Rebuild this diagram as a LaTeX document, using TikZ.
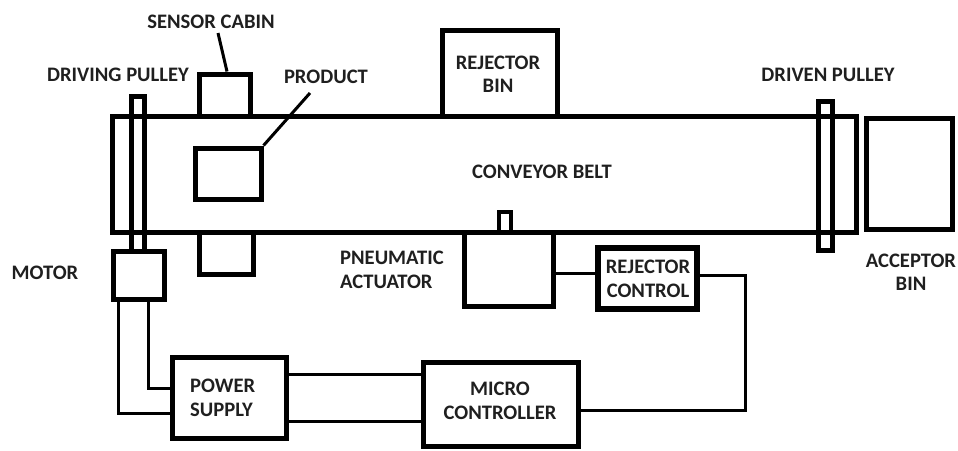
\documentclass[tikz,border=0pt]{standalone}
\usepackage{fontspec}
\setmainfont{Carlito}
\usetikzlibrary{calc}
\begin{document}
\begin{tikzpicture}[x=1pt,y=-1pt,
  box/.style={draw=black,line width=5pt,inner sep=0pt,minimum width=#1},
  wire/.style={draw=black,line width=3pt},
  lbl/.style={font=\bfseries\fontsize{20.6}{23.5}\selectfont,text=black!88,inner sep=0pt}]
\useasboundingbox (0,0) rectangle (958,450);
% belt
\node[box=744pt,minimum height=116pt] (belt) at (484,174) {};
% driving pulley and motor
\node[box=13pt,minimum height=155pt] (dpul) at (137.5,173.5) {};
\node[box=51pt,minimum height=48pt] (motor) at (138.5,275) {};
% sensor cabin
\node[box=51pt,minimum height=42pt] (senstop) at (224.5,95) {};
\node[box=54pt,minimum height=42pt] (sensbot) at (226,253) {};
% product
\node[box=66pt,minimum height=51pt] (prod) at (228,173.5) {};
% rejector bin
\node[box=115pt,minimum height=86pt] (rbin) at (499.5,73) {};
% actuator and rod
\node[draw=black,line width=4pt,inner sep=0pt,minimum width=12pt,minimum height=20pt] (rod) at (505,222) {};
\node[box=89pt,minimum height=74pt] (act) at (508.5,269) {};
% rejector control
\node[draw=black,line width=6.5pt,inner sep=0pt,minimum width=99pt,minimum height=61pt] (rc) at (647.5,278.5) {};
% power supply and micro controller
\node[box=114pt,minimum height=81pt] (ps) at (229,397.5) {};
\node[box=155pt,minimum height=84pt] (mc) at (500.5,404) {};
% driven pulley and acceptor bin
\node[box=14pt,minimum height=149pt] (npul) at (825,175.5) {};
\node[box=86pt,minimum height=111pt] (abin) at (909,173.5) {};

% labels
\node[lbl] (tsens) at (211,22) {SENSOR CABIN};
\node[lbl] (tdpul) at (118,75) {DRIVING PULLEY};
\node[lbl] (tprod) at (326,77) {PRODUCT};
\node[lbl] (tmotor) at (45,273) {MOTOR};
\node[lbl,align=center] (trbin) at (498,74) {REJECTOR\\BIN};
\node[lbl] (tbelt) at (542,172) {CONVEYOR BELT};
\node[lbl,align=left,anchor=west] (tact) at (340,270) {PNEUMATIC\\ACTUATOR};
\node[lbl,align=center] (trc) at (648,279) {REJECTOR\\CONTROL};
\node[lbl,align=left,anchor=west] (tps) at (190,398) {POWER\\SUPPLY};
\node[lbl,align=center] (tmc) at (500,401) {MICRO\\CONTROLLER};
\node[lbl] (tnpul) at (828,75) {DRIVEN PULLEY};
\node[lbl,align=center] (tabin) at (911,272) {ACCEPTOR\\BIN};

% leaders
\coordinate (ls) at (218,33);
\draw[wire] (ls) -- (senstop.north -| 227,0);
\coordinate (lp) at (310,93);
\draw[wire] (lp) -- (prod.north east);

% wiring
\coordinate (m1) at (118,413);
\coordinate (m2) at (148,388);
\draw[wire] (motor.south -| m1) -- (m1) -- (ps.west |- m1);
\draw[wire] (motor.south -| m2) -- (m2) -- (ps.west |- m2);
\coordinate (p1) at (0,374);
\coordinate (p2) at (0,421);
\draw[wire] (ps.east |- p1) -- (mc.west |- p1);
\draw[wire] (ps.east |- p2) -- (mc.west |- p2);
\coordinate (a1) at (0,273);
\draw[wire] (act.east |- a1) -- (rc.west |- a1);
\coordinate (r1) at (745,275);
\coordinate (r2) at (745,410);
\draw[wire] (rc.east |- r1) -- (r1) -- (r2) -- (mc.east |- r2);
\end{tikzpicture}
\end{document}
